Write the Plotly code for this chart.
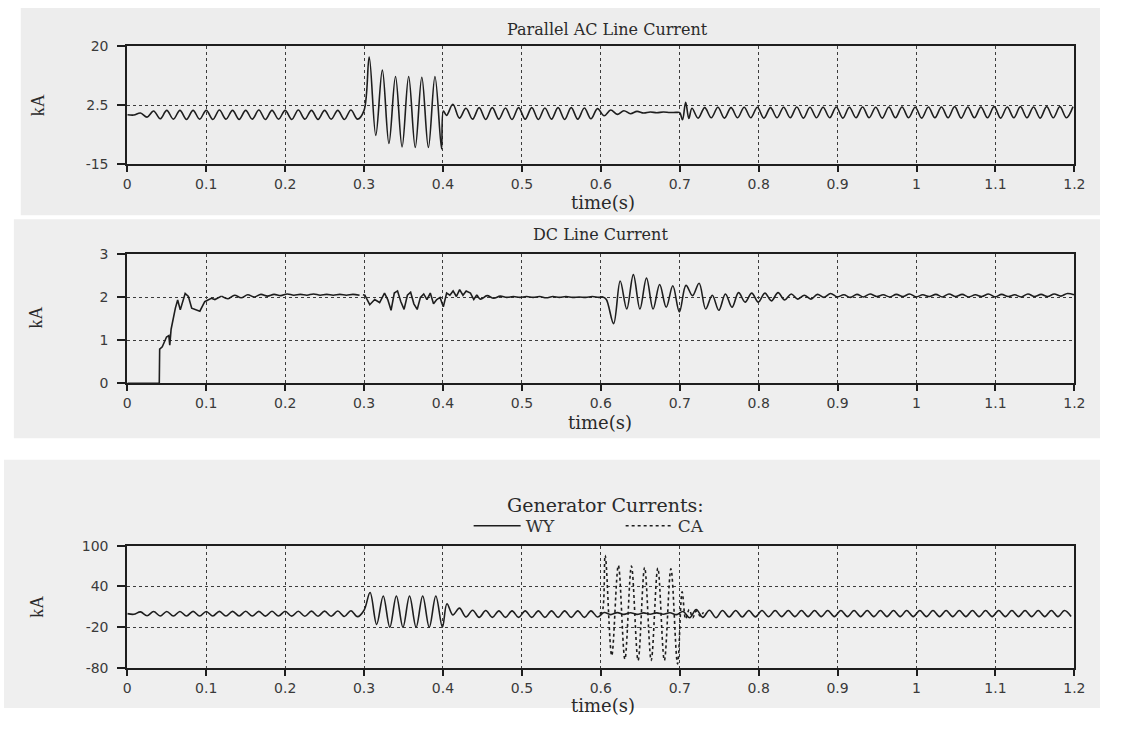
import plotly.graph_objects as go

# ---------------- data ----------------
HALF = 1 / 120  # half-cycle sampling step of the 60 Hz records (s)

# Panel 1: Parallel AC line current (kA)
ac_a_t0 = 0.0
ac_a = [-0.3, -0.4, 0.2, -1.0, 0.8, -1.5, 1.0, -1.6, 1.0, -1.7, 1.0, -1.6, 1.0, -1.7, 1.1, -1.6,
        1.0, -1.7, 1.0, -1.6, 1.1, -1.7, 1.0, -1.6, 1.0, -1.7, 1.1, -1.6, 1.0, -1.7, 1.0, -1.6,
        1.0, -1.7, 1.1, -1.6, 1.0]
ac_b_t0 = 0.3065
ac_b = [16.8, -6.4, 12.9, -8.8, 11.0, -9.8, 11.0, -10.0, 10.8, -10.0, 11.0, -10.4]
ac_c_t = [0.4005, 0.4045, 0.4125]
ac_c = [0.8, -0.5, 2.8]
ac_d_t0 = 0.4208
ac_d = [-1.3, 1.6, -1.6, 1.8, -1.7, 1.8, -1.6, 1.7, -1.7, 1.8, -1.6, 1.8, -1.7, 1.7, -1.6, 1.8,
        -1.7, 1.8, -1.6, 1.7, -1.5, 1.5]
ac_e_t0 = 0.6042
ac_e = [-0.6, 1.1, -0.2, 0.9, 0.0, 0.7, 0.2, 0.5, 0.3, 0.5, 0.35, 0.4]
ac_f_t = [0.7000, 0.7035, 0.7075, 0.7115, 0.7155]
ac_f = [0.3, -1.8, 3.4, -1.4, 1.6]
ac_g_t0 = 0.7233
ac_g = [-1.3, 1.8, -1.2, 1.9, -1.3, 1.8, -1.2, 1.9, -1.2, 1.9, -1.3, 1.8, -1.2, 1.9, -1.2, 2.0,
        -1.3, 1.9, -1.2, 1.9, -1.2, 2.0, -1.3, 1.9, -1.2, 2.0, -1.2, 1.9, -1.3, 2.0, -1.2, 2.0,
        -1.2, 1.9, -1.3, 2.0, -1.2, 2.0, -1.2, 2.1, -1.3, 2.0, -1.2, 2.0, -1.2, 2.1, -1.3, 2.0,
        -1.2, 2.1, -1.2, 2.0, -1.3, 2.1, -1.2, 2.1, -1.2, 2.1]

# Panel 2: DC line current (kA)
dc_a_t = [0.0, 0.0405, 0.0410, 0.0443, 0.0497, 0.0526, 0.0538, 0.0555, 0.0609, 0.0638, 0.0671,
          0.0733, 0.0774, 0.0816, 0.0919, 0.0981, 0.1064, 0.1110, 0.1193]
dc_a = [0.0, 0.0, 0.80, 0.85, 1.08, 1.11, 0.89, 1.26, 1.75, 1.94, 1.71, 2.09, 2.02, 1.75, 1.68,
        1.90, 1.98, 1.95, 2.03]
dc_b_t0 = 0.1276
dc_b = [1.97, 2.05, 1.99, 2.06, 2.01, 2.07, 2.03, 2.07, 2.04, 2.08, 2.05, 2.07, 2.05, 2.08, 2.05,
        2.07, 2.05, 2.07, 2.05, 2.07, 2.05]
dc_c_t = [0.2985, 0.3010, 0.3072, 0.3135, 0.3197, 0.3259, 0.3300, 0.3342, 0.3383, 0.3424, 0.3466,
          0.3507, 0.3549, 0.3590, 0.3631, 0.3673, 0.3714, 0.3756, 0.3797, 0.3839, 0.3880, 0.3921,
          0.3963, 0.4004, 0.4046, 0.4087, 0.4128, 0.4170, 0.4211, 0.4253, 0.4294, 0.4348, 0.4390,
          0.4430]
dc_c = [2.06, 2.05, 1.83, 1.95, 1.88, 2.10, 1.95, 1.70, 2.10, 2.15, 1.90, 1.72, 2.05, 2.12, 1.85,
        1.72, 2.00, 2.08, 1.95, 2.10, 1.85, 1.95, 2.00, 1.78, 2.10, 2.05, 2.15, 2.02, 2.18, 2.05,
        2.15, 2.10, 1.95, 2.06]
dc_d_t0 = 0.4475
dc_d = [1.96, 2.04, 1.98, 2.03, 2.00, 2.02, 2.00, 2.02, 2.00, 2.02, 1.99, 2.02, 2.00, 2.02, 2.00,
        2.01, 2.00, 2.02, 2.00]
dc_e_t = [0.6025, 0.6070]
dc_e = [2.01, 1.95]
dc_f_t0 = 0.6162
dc_f = [1.39, 2.38, 1.73, 2.53, 1.73, 2.45, 1.73, 2.30, 1.77, 2.27, 1.66, 2.28, 2.04, 2.33, 1.73,
        2.05, 1.70, 2.08, 1.77, 2.11, 1.89, 2.10, 1.89, 2.10, 1.92, 2.11, 1.94, 2.08, 1.96, 2.05,
        1.96]
dc_g_t0 = 0.8745
dc_g = [2.07, 2.00, 2.09, 2.01, 2.06, 2.00, 2.07, 2.01, 2.08, 2.02, 2.06, 2.01, 2.07, 2.02, 2.08,
        2.01, 2.06, 2.02, 2.07, 2.01, 2.08, 2.02, 2.07, 2.01, 2.06, 2.02, 2.08, 2.01, 2.07, 2.02,
        2.06, 2.01, 2.08, 2.02, 2.07, 2.02, 2.08, 2.03, 2.09, 2.06]

# Panel 3: generator currents (kA)
wy_a_t0 = 0.0
wy_a = [0.0, -1.0, 2.5, -3.2, 3.0, -3.5, 3.2, -3.6, 3.2, -3.5, 3.3, -3.6, 3.2, -3.5, 3.3, -3.6,
        3.3, -3.5, 3.4, -3.6, 3.3, -3.7, 3.4, -3.6, 3.5, -3.7, 3.4, -3.8, 3.6, -3.8, 3.7, -4.0,
        3.9, -4.2, 4.3, -4.5, 5.0]
wy_b_t0 = 0.3076
wy_b = [31, -16, 26, -20, 26, -20, 26, -20, 26, -20, 26, -20]
wy_c_t = [0.4050]
wy_c = [14.6]
wy_d_t0 = 0.4125
wy_d = [-2.0, 8.0, -5.0, 5.0, -5.5, 4.5, -5.5, 4.0, -5.5, 4.0, -5.5, 4.0, -5.5, 4.0, -5.5, 4.0,
        -5.5, 4.0, -5.5, 4.0, -5.5, 4.0, -5.0]
wy_e_t0 = 0.6042
wy_e = [1.5, -1.5, 1.5, -1.2, 1.2, -1.2, 1.0, -1.0, 1.0, -1.0, 1.2, -1.5]
wy_f_t0 = 0.7042
wy_f = [3.0, -6.0, 6.0, -5.5, 5.0, -6.0, 4.5, -5.0, 4.5, -5.0, 4.5, -4.8, 4.6, -4.6, 4.5, -4.5,
        4.6, -4.5, 4.5, -4.4, 4.6, -4.5, 4.5, -4.4, 4.6, -4.5, 4.5, -4.4, 4.6, -4.5, 4.5, -4.4,
        4.6, -4.5, 4.5, -4.4, 4.6, -4.5, 4.5, -4.4, 4.6, -4.5, 4.5, -4.4, 4.6, -4.5, 4.5, -4.4,
        4.6, -4.5, 4.5, -4.4, 4.6, -4.5, 4.5, -4.4, 4.6, -4.5, 4.5, -4.4]
ca_t = [0.5985, 0.6015, 0.6055, 0.6138, 0.6222, 0.6305, 0.6388, 0.6472, 0.6555, 0.6638, 0.6722,
        0.6805, 0.6888, 0.6972, 0.7030, 0.7075, 0.7120, 0.7165, 0.7210, 0.7260, 0.7300]
ca = [0, 2, 86, -62, 71, -67, 70, -69, 68, -69, 67, -69, 66, -74, 32, -8, 6, -6, 4, -4, 2]

x_ticks = [0, 0.1, 0.2, 0.3, 0.4, 0.5, 0.6, 0.7, 0.8, 0.9, 1.0, 1.1, 1.2]
x_tick_text = ["0", "0.1", "0.2", "0.3", "0.4", "0.5", "0.6", "0.7", "0.8", "0.9", "1", "1.1", "1.2"]
ac_ticks = [-15, 2.5, 20]
dc_ticks = [0, 1, 2, 3]
gen_ticks = [-80, -20, 40, 100]


# ---------------- assemble ----------------
def on_grid(t0, vals):
    return [t0 + k * HALF for k in range(len(vals))]


def join(*parts):
    xs, ys = [], []
    for t, v in parts:
        xs += list(t)
        ys += list(v)
    return xs, ys


ac_x, ac_y = join((on_grid(ac_a_t0, ac_a), ac_a), (on_grid(ac_b_t0, ac_b), ac_b), (ac_c_t, ac_c),
                  (on_grid(ac_d_t0, ac_d), ac_d), (on_grid(ac_e_t0, ac_e), ac_e), (ac_f_t, ac_f),
                  (on_grid(ac_g_t0, ac_g), ac_g))
dc1_x, dc1_y = join((dc_a_t, dc_a))
dc2_x, dc2_y = join((dc_a_t[-1:], dc_a[-1:]), (on_grid(dc_b_t0, dc_b), dc_b))
dc3_x, dc3_y = join((dc_c_t, dc_c))
dc4_x, dc4_y = join((dc_c_t[-1:], dc_c[-1:]), (on_grid(dc_d_t0, dc_d), dc_d), (dc_e_t, dc_e),
                    (on_grid(dc_f_t0, dc_f), dc_f), (on_grid(dc_g_t0, dc_g), dc_g))
wy_x, wy_y = join((on_grid(wy_a_t0, wy_a), wy_a), (on_grid(wy_b_t0, wy_b), wy_b), (wy_c_t, wy_c),
                  (on_grid(wy_d_t0, wy_d), wy_d), (on_grid(wy_e_t0, wy_e), wy_e),
                  (on_grid(wy_f_t0, wy_f), wy_f))

INK = "#1e1e1e"
SERIF = "DejaVu Serif, serif"
TSERIF = "Liberation Serif, Times New Roman, serif"
SANS = "DejaVu Sans, Arial, sans-serif"

fig = go.Figure()
line_s = dict(color=INK, width=1.6, shape="spline", smoothing=1.0)
line_l = dict(color=INK, width=1.6)

fig.add_trace(go.Scatter(x=ac_x, y=ac_y, mode="lines", line=line_s, showlegend=False,
                         xaxis="x", yaxis="y"))
fig.add_trace(go.Scatter(x=dc1_x, y=dc1_y, mode="lines", line=line_l, showlegend=False,
                         xaxis="x2", yaxis="y2"))
fig.add_trace(go.Scatter(x=dc2_x, y=dc2_y, mode="lines", line=line_s, showlegend=False,
                         xaxis="x2", yaxis="y2"))
fig.add_trace(go.Scatter(x=dc3_x, y=dc3_y, mode="lines", line=line_l, showlegend=False,
                         xaxis="x2", yaxis="y2"))
fig.add_trace(go.Scatter(x=dc4_x, y=dc4_y, mode="lines", line=line_s, showlegend=False,
                         xaxis="x2", yaxis="y2"))
fig.add_trace(go.Scatter(x=wy_x, y=wy_y, mode="lines", name="WY", line=line_s, showlegend=True,
                         xaxis="x3", yaxis="y3"))
fig.add_trace(go.Scatter(x=ca_t, y=ca, mode="lines", name="CA",
                         line=dict(color=INK, width=1.6, dash="dot", shape="spline"),
                         showlegend=True, xaxis="x3", yaxis="y3"))

# the page body keeps its default 8 px margin: leave slack so the page never overflows
OFF = 8
W, H = 1127 - 2 * OFF, 740 - 3 * OFF
X0, X1 = 133 - OFF, 1093 - OFF


def fx(px):
    return (px - OFF) / W


def fy(py):
    return 1 - (py - OFF) / H


def px_dom(top, bottom):
    return [fy(bottom), fy(top)]


xdom = [X0 / W, X1 / W]
xcommon = dict(range=[0, 1.2], domain=xdom, tickmode="array", tickvals=x_ticks,
               ticktext=x_tick_text, ticks="outside", ticklen=6, tickwidth=1.5, tickcolor=INK,
               showline=True, linewidth=2, linecolor=INK, mirror=True,
               showgrid=True, gridcolor="#3c3c3c", gridwidth=1, griddash="dot",
               zeroline=False, tickfont=dict(family=SANS, size=14, color="#3a3a3a"))
ycommon = dict(ticks="outside", ticklen=8, tickwidth=1.5, tickcolor=INK, showline=True,
               linewidth=2, linecolor=INK, mirror=True, showgrid=True, gridcolor="#3c3c3c",
               gridwidth=1, griddash="dot", zeroline=False, tickmode="array",
               ticklabelstandoff=6,
               tickfont=dict(family=SANS, size=14, color="#3a3a3a"))

fig.update_layout(
    width=W, height=H, margin=dict(l=0, r=0, t=0, b=0),
    paper_bgcolor="#ffffff", plot_bgcolor="rgba(0,0,0,0)",
    xaxis=dict(**xcommon, anchor="y"),
    yaxis=dict(**ycommon, range=[-15, 20], tickvals=ac_ticks, ticktext=["-15", "2.5", "20"],
               domain=px_dom(47, 168), anchor="x"),
    xaxis2=dict(**xcommon, anchor="y2"),
    yaxis2=dict(**ycommon, range=[0, 3], tickvals=dc_ticks, ticktext=["0", "1", "2", "3"],
                domain=px_dom(260, 392), anchor="x2"),
    xaxis3=dict(**xcommon, anchor="y3"),
    yaxis3=dict(**ycommon, range=[-80, 100], tickvals=gen_ticks,
                ticktext=["-80", "-20", "40", "100"], domain=px_dom(558, 683), anchor="x3"),
    legend=dict(orientation="h", x=fx(479), xanchor="left", y=fy(538), yanchor="middle",
                font=dict(family=SERIF, size=17, color="#333"), bgcolor="rgba(0,0,0,0)",
                itemwidth=47, entrywidth=90, traceorder="normal"),
    shapes=[
        dict(type="rect", xref="paper", yref="paper", x0=fx(25), x1=1, y0=fy(220),
             y1=1, fillcolor="#ededed", line=dict(width=0), layer="below"),
        dict(type="rect", xref="paper", yref="paper", x0=fx(18), x1=1, y0=fy(448),
             y1=fy(224), fillcolor="#eeeeee", line=dict(width=0), layer="below"),
        dict(type="rect", xref="paper", yref="paper", x0=0, x1=1, y0=0,
             y1=fy(470), fillcolor="#efefef", line=dict(width=0), layer="below"),
    ],
)

ann = []


def txt(text, xpx, ypx, size, angle=0, family=SERIF, color="#2a2a2a"):
    ann.append(dict(text=text, x=fx(xpx), y=fy(ypx), xref="paper", yref="paper",
                    showarrow=False, xanchor="center", yanchor="middle", textangle=angle,
                    font=dict(family=family, size=size, color=color)))


txt("Parallel AC Line Current", 620, 30, 16)
txt("DC Line Current", 613, 240, 16)
txt("Generator Currents:", 618, 516, 19)
txt("time(s)", 615, 207, 18)
txt("time(s)", 612, 432, 18)
txt("time(s)", 615, 721, 18)
txt("kA", 42, 108, 18, angle=-90, family=TSERIF)
txt("kA", 40, 325, 18, angle=-90, family=TSERIF)
txt("kA", 42, 621, 18, angle=-90, family=TSERIF)
fig.update_layout(annotations=ann)

fig.write_html("out.html")
